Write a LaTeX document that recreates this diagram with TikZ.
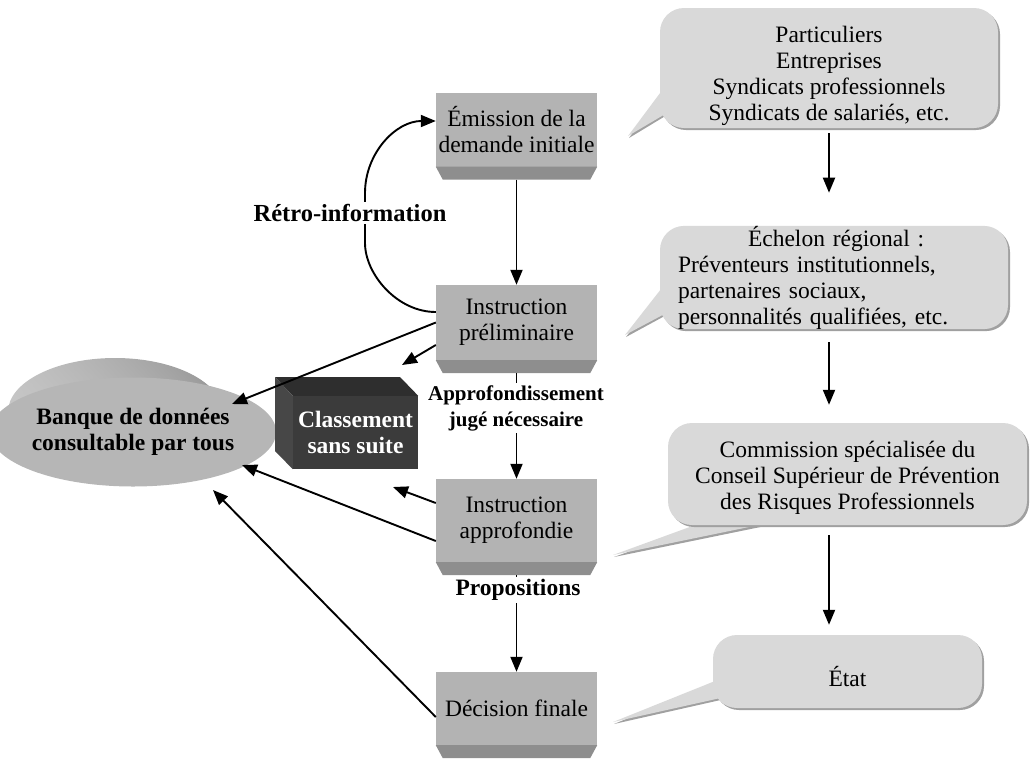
\documentclass[tikz,border=0pt]{standalone}
\usepackage{fontspec}
\setmainfont{Liberation Serif}
\usetikzlibrary{arrows.meta,calc,shadows,shapes.geometric}
\definecolor{boxface}{HTML}{B3B3B3}
\definecolor{boxbevel}{HTML}{8E8E8E}
\definecolor{callfill}{HTML}{D9D9D9}
\definecolor{callshadow}{HTML}{A0A0A0}
\definecolor{clsfront}{HTML}{3B3B3B}
\definecolor{clstop}{HTML}{2E2E2E}
\definecolor{clsleft}{HTML}{474747}
\definecolor{ellfront}{HTML}{B6B6B6}
\definecolor{ellsideA}{HTML}{C6C6C6}
\definecolor{ellsideB}{HTML}{979797}
\newcommand{\shiftlines}[2]{\raisebox{#1}[\height][\depth]{\begin{tabular}{@{}c@{}}#2\end{tabular}}}
\begin{document}
\begin{tikzpicture}[x=1pt,y=-1pt,
  font=\fontsize{23.5}{26}\selectfont,
  stepbox/.style={fill=boxface, minimum width=161pt, inner sep=0pt, align=center},
  bevel/.style={fill=boxbevel},
  arr/.style={line width=1.9pt, -{Triangle[length=15pt,width=12pt]}},
  lbl/.style={font=\bfseries\fontsize{23.5}{26}\selectfont, fill=white, inner sep=2pt, align=center},
  callbody/.style={fill=callfill, rounded corners=24pt, inner sep=0pt, align=center,
     general shadow={fill=callshadow, shadow xshift=2pt, shadow yshift=-2pt}},
  calltail/.style={fill=callfill},
  tailshadow/.style={fill=callshadow}
]
\useasboundingbox (0,0) rectangle (1030,758);

% ---------- main boxes ----------
\node[stepbox, minimum height=74pt] (b1) at (516.5,129.5) {Émission de la\\demande initiale};
\node[stepbox, minimum height=75pt] (b2) at (516.5,322.5) {Instruction\\préliminaire};
\node[stepbox, minimum height=83pt] (b3) at (516.5,520.5) {Instruction\\approfondie};
\node[stepbox, minimum height=73pt] (b4) at (516.5,708.5) {Décision finale};
\foreach \b in {b1,b2,b3,b4}{
  \fill[bevel] (\b.south west) -- (\b.south east) -- ++(-7,13) -- ($(\b.south west)+(7,13)$) -- cycle;
  \coordinate (\b base) at ($(\b.south)+(0,13)$);
}

% ---------- vertical flow ----------
\draw[arr] (b1base) -- (b2.north);
\draw[arr] (b2base) -- (b3.north);
\node[lbl, font=\bfseries\fontsize{21}{26}\selectfont] (lblA) at (516,408) {Approfondissement\\jugé nécessaire};
\draw[arr] (b3base) -- (b4.north);
\node[lbl] (lblP) at (518,590) {Propositions};

% ---------- retro-information ----------
\draw[arr] ([yshift=10.5pt]b2.west) .. controls (397,312) and (365,274) .. (365,243)
   -- (365,193) .. controls (365,153) and (396,121) .. ([yshift=8.5pt]b1.west);
\node[lbl, font=\bfseries\fontsize{24.5}{26}\selectfont] (lblR) at (350,213) {Rétro-information};

% ---------- database ellipse ----------
\foreach \i in {0,...,20}{
  \shade[left color=ellsideA, right color=ellsideB]
    ($(133,432)+(-18+0.9*\i,-20+\i)$) ellipse [x radius=107, y radius=54];
}
\node[ellipse, fill=ellfront, minimum width=215pt, minimum height=109pt, inner sep=0pt,
      align=center, font=\bfseries\fontsize{23.5}{26}\selectfont] (bdd) at (133,432)
      {Banque de données\\consultable par tous};

% ---------- classement box ----------
\node[fill=clsfront, minimum width=125pt, minimum height=73pt, inner sep=0pt, text=white,
      align=center, font=\bfseries\fontsize{23.5}{26}\selectfont] (cls) at (355.5,432.5)
      {Classement\\sans suite};
\fill[clstop] (275,377) -- (400,377) -- (cls.north east) -- (cls.north west) -- cycle;
\fill[clsleft] (275,377) -- (cls.north west) -- (cls.south west) -- (275,451) -- cycle;

% ---------- arrows to the left ----------
\coordinate (tA) at (232,404);
\coordinate (tB) at (402,365);
\coordinate (tC) at (393,487);
\coordinate (tD) at (242,465);
\coordinate (tE) at (213,490);
\draw[arr] (b2.west) -- (tA);
\draw[arr] ([yshift=-22.5pt]b2.west) -- (tB);
\draw[arr] ([yshift=17.5pt]b3.west) -- (tC);
\draw[arr] ([yshift=-20.5pt]b3.west) -- (tD);
\draw[arr] ([yshift=-8.5pt]b4.west) -- (tE);

% ---------- callout tails ----------
\fill[tailshadow] (672,78) -- (629,138) -- (672,112) -- cycle;
\fill[tailshadow] (672,276) -- (626,337) -- (672,312) -- cycle;
\fill[tailshadow] (730,515) -- (614,557) -- (819,515) -- cycle;
\fill[tailshadow] (725,678) -- (614,724) -- (725,699) -- cycle;
\fill[calltail] (672,77) -- (628,136) -- (672,110) -- cycle;
\fill[calltail] (672,275) -- (625,335) -- (672,310) -- cycle;
\fill[calltail] (728,513) -- (613,555) -- (817,513) -- cycle;
\fill[calltail] (725,677) -- (613,722) -- (725,697) -- cycle;

% ---------- callout bodies ----------
\node[callbody, minimum width=338pt, minimum height=120pt] (c1) at (829,68)
  {\shiftlines{-8pt}{Particuliers\\Entreprises\\Syndicats professionnels\\Syndicats de salariés, etc.}};
\node[callbody, minimum width=348pt, minimum height=99pt, align=left,
      text width=312pt] (c2) at (834,277.5)
  {\hspace*{70pt}Échelon régional :\\Préventeurs institutionnels,\\partenaires sociaux,\\personnalités qualifiées, etc.};
\node[callbody, minimum width=359pt, minimum height=102pt] (c3) at (847.5,474)
  {\shiftlines{-4pt}{Commission spécialisée du\\Conseil Supérieur de Prévention\\des Risques Professionnels}};
\node[callbody, minimum width=269pt, minimum height=73pt] (c4) at (847.5,671.5)
  {\raisebox{-5pt}[\height][\depth]{État}};

% ---------- right-hand flow ----------
\coordinate (rx) at (829,0);
\draw[arr, shorten <=5pt, shorten >=33pt] (rx |- c1.south) -- (rx |- c2.north);
\draw[arr, shorten <=13pt, shorten >=18pt] (rx |- c2.south) -- (rx |- c3.north);
\draw[arr, shorten <=10pt, shorten >=10pt] (rx |- c3.south) -- (rx |- c4.north);
\end{tikzpicture}
\end{document}
